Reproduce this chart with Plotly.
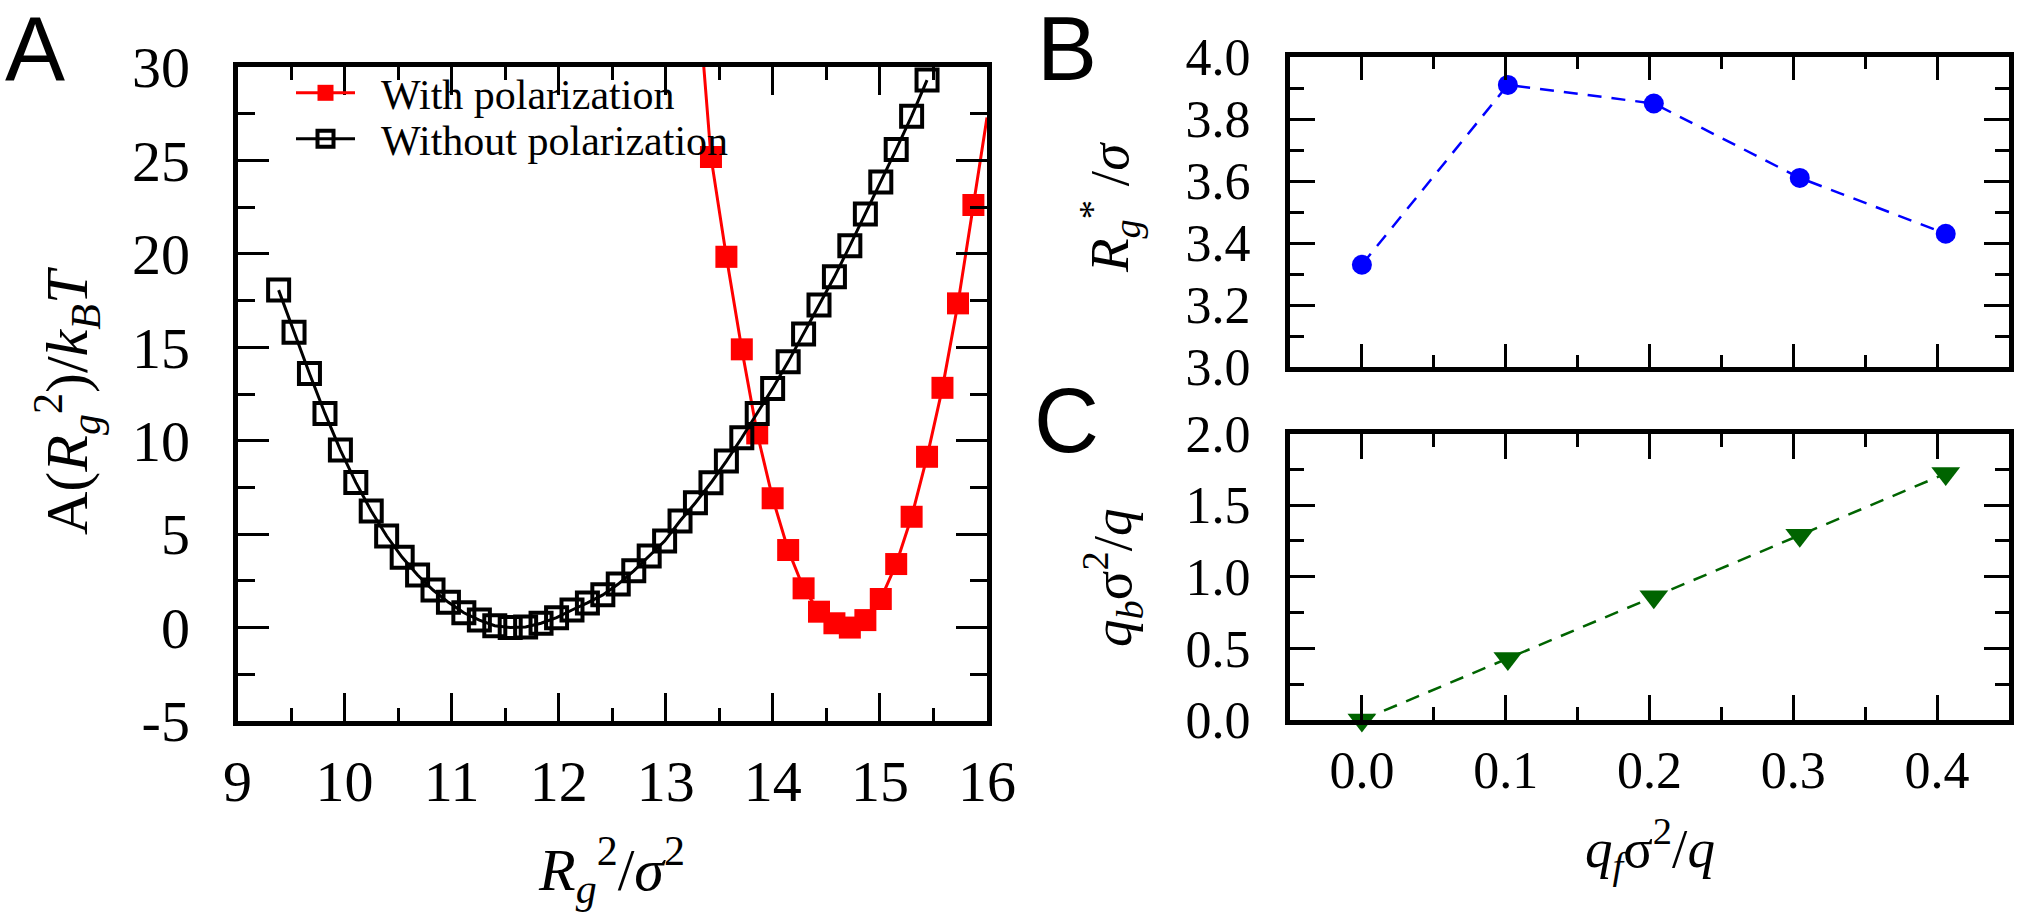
import plotly.graph_objects as go

# ---------------- Panel A data ----------------
black_x = [9.384, 9.528, 9.672, 9.817, 9.961, 10.105, 10.249, 10.393, 10.538, 10.682,
           10.826, 10.970, 11.114, 11.259, 11.403, 11.547, 11.691, 11.835, 11.980, 12.124,
           12.268, 12.412, 12.556, 12.701, 12.845, 12.989, 13.133, 13.277, 13.422, 13.566,
           13.710, 13.854, 13.998, 14.143, 14.287, 14.431, 14.575, 14.719, 14.864, 15.008,
           15.152, 15.296, 15.440]
black_y = [18.06, 15.8, 13.6, 11.46, 9.50, 7.77, 6.24, 4.90, 3.76, 2.81,
           2.01, 1.35, 0.79, 0.40, 0.10, 0.0, 0.03, 0.23, 0.53, 0.94,
           1.32, 1.75, 2.33, 3.04, 3.83, 4.63, 5.70, 6.68, 7.75, 8.91,
           10.16, 11.46, 12.80, 14.22, 15.71, 17.26, 18.77, 20.43, 22.13, 23.85,
           25.59, 27.37, 29.30]

red_x = [13.422, 13.566, 13.710, 13.854, 13.998, 14.143, 14.287, 14.431, 14.575, 14.719,
         14.864, 15.008, 15.152, 15.296, 15.440, 15.584, 15.729, 15.873]
red_y = [25.19, 19.84, 14.89, 10.39, 6.92, 4.15, 2.10, 0.85, 0.23, 0.0,
         0.40, 1.53, 3.40, 5.93, 9.14, 12.83, 17.35, 22.61]
# where the red curve leaves the frame
red_curve_start = (13.355, 30.0)
red_curve_end = (16.0, 27.3)

a_xticks = [9, 10, 11, 12, 13, 14, 15, 16]
a_xticktext = ["9", "10", "11", "12", "13", "14", "15", "16"]
a_xminor = [9.5, 10.5, 11.5, 12.5, 13.5, 14.5, 15.5]
a_yticks = [-5, 0, 5, 10, 15, 20, 25, 30]
a_yticktext = ["-5", "0", "5", "10", "15", "20", "25", "30"]
a_yminor = [-2.5, 2.5, 7.5, 12.5, 17.5, 22.5, 27.5]

# ---------------- Panels B / C data ----------------
qf = [0.0, 0.1015, 0.203, 0.3045, 0.406]
rg_star = [3.33, 3.91, 3.85, 3.61, 3.43]
qb = [0.0, 0.43, 0.86, 1.29, 1.72]

bc_xticks = [0.0, 0.1, 0.2, 0.3, 0.4]
bc_xticktext = ["0.0", "0.1", "0.2", "0.3", "0.4"]
bc_xminor = [0.05, 0.15, 0.25, 0.35]
b_yticks = [3.0, 3.2, 3.4, 3.6, 3.8, 4.0]
b_yticktext = ["3.0", "3.2", "3.4", "3.6", "3.8", "4.0"]
b_yminor = [3.1, 3.3, 3.5, 3.7, 3.9]
c_yticks = [0.0, 0.5, 1.0, 1.5, 2.0]
c_yticktext = ["0.0", "0.5", "1.0", "1.5", "2.0"]
c_yminor = [0.25, 0.75, 1.25, 1.75]

W, H = 2044, 917
SERIF = "Liberation Serif"
SANS = "Liberation Sans"
NBSP = "\u00a0"


def px_x(p):
    return p / W


def px_y(p):
    return 1 - p / H


fig = go.Figure()

# Panel A traces
fig.add_trace(go.Scatter(
    x=[red_curve_start[0]] + red_x + [red_curve_end[0]],
    y=[red_curve_start[1]] + red_y + [red_curve_end[1]],
    mode="lines+markers", name=NBSP * 2 + "With polarization",
    line=dict(color="#ff0000", width=3),
    marker=dict(symbol="square", size=[0] + [22] * len(red_x) + [0], color="#ff0000",
                opacity=1, line=dict(width=0)),
    xaxis="x", yaxis="y", legend="legend", showlegend=True,
))
fig.add_trace(go.Scatter(
    x=black_x, y=black_y, mode="lines+markers", name=NBSP * 2 + "Without polarization",
    line=dict(color="black", width=3),
    marker=dict(symbol="square-open", size=21, color="black", opacity=1,
                line=dict(width=4, color="black")),
    xaxis="x", yaxis="y", legend="legend2", showlegend=True,
))

# Panel B
fig.add_trace(go.Scatter(
    x=qf, y=rg_star, mode="lines+markers", showlegend=False,
    line=dict(color="#0000ff", width=2.5, dash="14px,10px"),
    marker=dict(symbol="circle", size=20, color="#0000ff"),
    xaxis="x2", yaxis="y2", cliponaxis=False,
))
# Panel C
fig.add_trace(go.Scatter(
    x=qf, y=qb, mode="lines+markers", showlegend=False,
    line=dict(color="#006400", width=2.5, dash="14px,10px"),
    marker=dict(symbol="triangle-down", size=25, color="#006400"),
    xaxis="x3", yaxis="y3", cliponaxis=False,
))


def axis_style(tickvals, ticktext, ticklen, minorvals, minorlen, fontsize, standoff,
               showlabels=True):
    return dict(
        tickmode="array", tickvals=tickvals, ticktext=ticktext,
        ticks="inside", ticklen=ticklen, tickwidth=2.5, tickcolor="black",
        minor=dict(tickmode="array", tickvals=minorvals, ticks="inside", ticklen=minorlen,
                   tickwidth=2.5, tickcolor="black", showgrid=False),
        showline=True, linewidth=5, linecolor="black", mirror="allticks",
        showgrid=False, zeroline=False, showticklabels=showlabels,
        ticklabelstandoff=standoff, automargin=False,
        tickfont=dict(family=SERIF, size=fontsize, color="black"),
    )


A_left, A_right, A_top, A_bot = 237.5, 987, 67, 721
B_left, B_right, B_top, B_bot = 1290, 2009, 57, 367
C_top, C_bot = 433.5, 720

layout = dict(
    template="none",
    width=W, height=H, margin=dict(l=0, r=0, t=0, b=0, pad=0, autoexpand=False),
    paper_bgcolor="white", plot_bgcolor="white",
    xaxis=dict(domain=[px_x(A_left), px_x(A_right)], range=[9, 16], anchor="y",
               **axis_style(a_xticks, a_xticktext, 28, a_xminor, 13, 58, 5)),
    yaxis=dict(domain=[px_y(A_bot), px_y(A_top)], range=[-5, 30], anchor="x",
               **axis_style(a_yticks, a_yticktext, 31, a_yminor, 17, 58, 31)),
    xaxis2=dict(domain=[px_x(B_left), px_x(B_right)], range=[-0.05, 0.45], anchor="y2",
                **axis_style(bc_xticks, bc_xticktext, 23, bc_xminor, 12, 52, 0,
                             showlabels=False)),
    yaxis2=dict(domain=[px_y(B_bot), px_y(B_top)], range=[3.0, 4.0], anchor="x2",
                **axis_style(b_yticks, b_yticktext, 25, b_yminor, 14, 52, 24)),
    xaxis3=dict(domain=[px_x(B_left), px_x(B_right)], range=[-0.05, 0.45], anchor="y3",
                **axis_style(bc_xticks, bc_xticktext, 25, bc_xminor, 13, 52, 1)),
    yaxis3=dict(domain=[px_y(C_bot), px_y(C_top)], range=[0.0, 2.0], anchor="x3",
                **axis_style(c_yticks, c_yticktext, 25, c_yminor, 14, 52, 24)),
    legend=dict(x=px_x(291), y=px_y(93), xanchor="left", yanchor="middle",
                bgcolor="rgba(0,0,0,0)", borderwidth=0, itemwidth=59,
                font=dict(family=SERIF, size=42, color="black")),
    legend2=dict(x=px_x(291), y=px_y(139), xanchor="left", yanchor="middle",
                 bgcolor="rgba(0,0,0,0)", borderwidth=0, itemwidth=59,
                 font=dict(family=SERIF, size=42, color="black")),
)
fig.update_layout(**layout)

annotations = [
    dict(text="A", x=px_x(35), y=px_y(49), font=dict(family=SANS, size=90)),
    dict(text="B", x=px_x(1067), y=px_y(49), font=dict(family=SANS, size=90)),
    dict(text="C", x=px_x(1066), y=px_y(421), font=dict(family=SANS, size=90)),
    dict(text="A(<i>R</i><sub><i>g</i></sub><sup>2</sup>)/<i>k</i><sub><i>B</i></sub><i>T</i>",
         x=px_x(67), y=px_y(401), textangle=-90, font=dict(family=SERIF, size=60)),
    dict(text="<i>R</i><sub><i>g</i></sub><sup>2</sup>/<i>σ</i><sup>2</sup>",
         x=px_x(611), y=px_y(870), font=dict(family=SERIF, size=60)),
    dict(text="<i>R</i><sub><i>g</i></sub><sup>*</sup> /<i>σ</i>",
         x=px_x(1110), y=px_y(208), textangle=-90, font=dict(family=SERIF, size=55)),
    dict(text="<i>q</i><sub><i>b</i></sub>σ<sup>2</sup>/<i>q</i>",
         x=px_x(1112), y=px_y(578), textangle=-90, font=dict(family=SERIF, size=55)),
    dict(text="<i>q</i><sub><i>f</i></sub>σ<sup>2</sup>/<i>q</i>",
         x=px_x(1650), y=px_y(848), font=dict(family=SERIF, size=55)),
]
for a in annotations:
    a.update(xref="paper", yref="paper", showarrow=False, xanchor="center", yanchor="middle")
    a["font"]["color"] = "black"
fig.update_layout(annotations=annotations)

fig.write_html("out.html")
